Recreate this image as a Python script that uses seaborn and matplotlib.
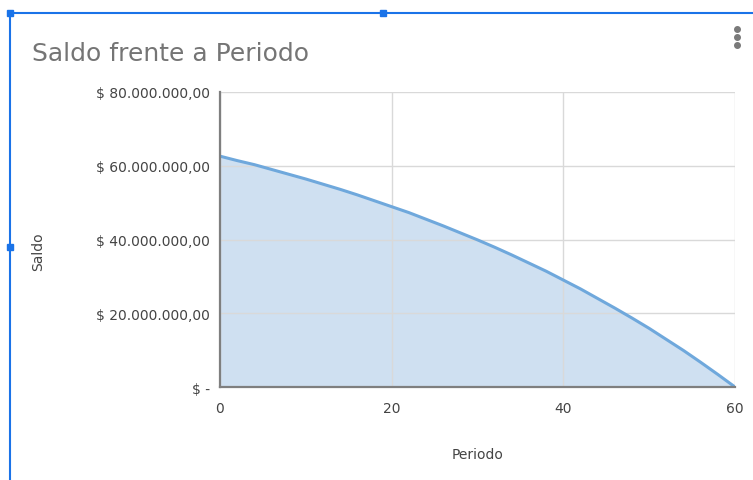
import matplotlib
matplotlib.use("Agg")
import matplotlib.pyplot as plt
from matplotlib.lines import Line2D
from matplotlib.patches import Rectangle
from matplotlib.ticker import FuncFormatter
import pandas as pd
import seaborn as sns

# Loan balance per period
periodo = list(range(0, 61, 2))
saldo = [62.6e6, 61.4e6, 60.3e6, 59.0e6, 57.7e6, 56.4e6, 55.0e6, 53.6e6,
         52.1e6, 50.5e6, 48.9e6, 47.3e6, 45.5e6, 43.7e6, 41.8e6, 39.9e6,
         37.9e6, 35.8e6, 33.6e6, 31.4e6, 29.0e6, 26.6e6, 24.0e6, 21.4e6,
         18.7e6, 15.9e6, 12.9e6, 9.9e6, 6.7e6, 3.4e6, 0.0]
x_ticks = [0, 20, 40, 60]
y_ticks = [0, 20e6, 40e6, 60e6, 80e6]

df = pd.DataFrame({"Periodo": periodo, "Saldo": saldo})

sns.set_theme(style="white")
plt.rcParams["font.family"] = ["DejaVu Sans"]

W, H = 753, 481
fig = plt.figure(figsize=(W / 100, H / 100), dpi=100)
ax = fig.add_axes([220 / W, 1 - 388 / H, (735 - 220) / W, (388 - 93) / H])

line_c = "#6fa8dc"
ax.fill_between(df["Periodo"], df["Saldo"], 0, color="#cfe0f1", zorder=1, lw=0)
sns.lineplot(data=df, x="Periodo", y="Saldo", ax=ax, color=line_c, lw=2.2, zorder=3)

ax.set_xlim(0, 60)
ax.set_ylim(0, 80e6)
ax.set_xticks(x_ticks)
ax.set_yticks(y_ticks)


def money(v, _):
    if v == 0:
        return "$ -"
    s = f"{v:,.2f}".replace(",", "X").replace(".", ",").replace("X", ".")
    return "$ " + s


ax.yaxis.set_major_formatter(FuncFormatter(money))
ax.grid(True, color="#d9d9d9", lw=1, zorder=2)
ax.set_axisbelow(False)
for s in ["top", "right"]:
    ax.spines[s].set_visible(False)
for s in ["left", "bottom"]:
    ax.spines[s].set_color("#7f7f7f")
    ax.spines[s].set_linewidth(1.6)
    ax.spines[s].set_zorder(4)
ax.tick_params(axis="both", labelsize=10, colors="#444444", length=0)
ax.tick_params(axis="y", pad=7)
ax.tick_params(axis="x", pad=10)
ax.set_xlabel("Periodo", fontsize=10, color="#444444")
ax.set_ylabel("Saldo", fontsize=10, color="#444444")
ax.xaxis.set_label_coords(0.50, (388 - 455) / 295)
ax.xaxis.label.set_va("center")
ax.yaxis.set_label_coords((38 - 220) / 515, (388 - 252) / 295)
ax.yaxis.label.set_va("center")

fig.text(32 / W, 1 - 61 / H, "Saldo frente a Periodo", fontsize=18,
         color="#757575", va="baseline", ha="left")

# menu dots
for yy in (30, 38, 46):
    fig.add_artist(Line2D([737 / W], [1 - yy / H], marker="o", ms=4,
                          color="#7a7a7a", transform=fig.transFigure))

# selection frame
blue = "#1a73e8"
fig.add_artist(Line2D([10 / W, 1], [1 - 14 / H] * 2, color=blue, lw=1.5,
                      transform=fig.transFigure))
fig.add_artist(Line2D([10 / W] * 2, [1 - 14 / H, 0], color=blue, lw=1.5,
                      transform=fig.transFigure))
for (hx, hy) in [(10, 14), (383, 14), (10, 248)]:
    fig.add_artist(Rectangle(((hx - 3) / W, 1 - (hy + 3) / H), 6 / W, 6 / H,
                             color=blue, transform=fig.transFigure))

fig.savefig("out.png", dpi=100)
